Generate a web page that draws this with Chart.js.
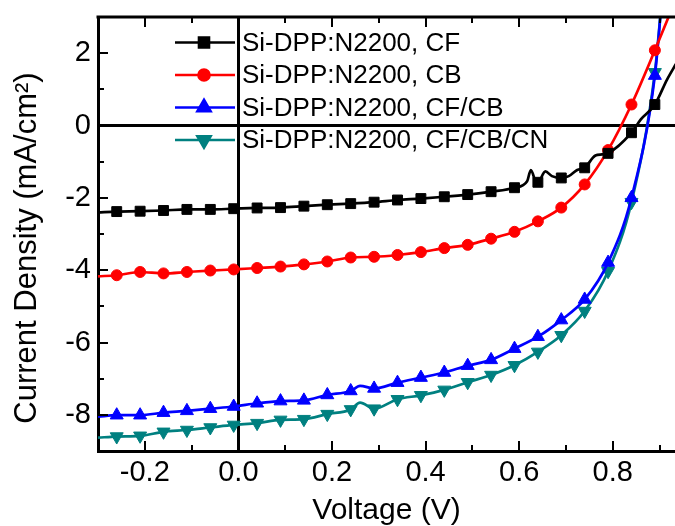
<!DOCTYPE html>
<html><head><meta charset="utf-8">
<script src="https://cdn.jsdelivr.net/npm/chart.js@4.4.1/dist/chart.umd.min.js"></script>
<style>html,body{margin:0;padding:0;background:#fff;overflow:hidden}#wrap{width:675px;height:526px}</style>
</head><body><div id="wrap"><canvas id="c" width="675" height="526"></canvas></div>
<script>
// ---- data ----
const seriesNames = ['Si-DPP:N2200, CF', 'Si-DPP:N2200, CB', 'Si-DPP:N2200, CF/CB', 'Si-DPP:N2200, CF/CB/CN'];
const markerV = [-0.26,-0.21,-0.16,-0.11,-0.06,-0.01,0.04,0.09,0.14,0.19,0.24,0.29,0.34,0.39,0.44,0.49,0.54,0.59,0.64,0.69,0.74,0.79,0.84,0.89];

const cfV = [-0.30,-0.26,-0.21,-0.16,-0.11,-0.06,-0.01,0.04,0.09,0.14,0.19,0.24,0.29,0.34,0.39,0.44,0.49,0.54,0.59,0.617,0.625,0.635,0.64,0.656,0.67,0.69,0.706,0.724,0.74,0.763,0.777,0.79,0.84,0.86,0.89,0.916,0.935];
const cfJ = [-2.40,-2.38,-2.37,-2.35,-2.32,-2.32,-2.30,-2.28,-2.27,-2.23,-2.19,-2.16,-2.12,-2.06,-2.02,-1.97,-1.91,-1.83,-1.72,-1.54,-1.23,-1.54,-1.57,-1.27,-1.40,-1.45,-1.40,-1.23,-1.17,-0.83,-0.80,-0.77,-0.20,0.17,0.58,1.27,1.70];

const cbV = [-0.30,-0.26,-0.21,-0.16,-0.11,-0.06,-0.01,0.04,0.09,0.14,0.19,0.24,0.29,0.34,0.39,0.44,0.49,0.54,0.59,0.64,0.69,0.74,0.79,0.84,0.89,0.935];
const cbJ = [-4.17,-4.14,-4.05,-4.09,-4.05,-4.01,-3.98,-3.94,-3.90,-3.84,-3.76,-3.65,-3.63,-3.58,-3.50,-3.39,-3.30,-3.13,-2.94,-2.65,-2.27,-1.63,-0.68,0.58,2.08,3.50];

const cfcbV = [-0.30,-0.26,-0.21,-0.16,-0.11,-0.06,-0.01,0.04,0.09,0.14,0.19,0.24,0.26,0.29,0.34,0.39,0.44,0.49,0.54,0.59,0.64,0.69,0.74,0.79,0.84,0.89,0.905];
const cfcbJ = [-8.05,-8.01,-8.01,-7.94,-7.89,-7.83,-7.77,-7.68,-7.62,-7.60,-7.45,-7.34,-7.20,-7.27,-7.11,-6.97,-6.83,-6.64,-6.48,-6.17,-5.84,-5.38,-4.81,-3.79,-2.00,1.38,3.50];

const cnV = [-0.30,-0.26,-0.21,-0.16,-0.11,-0.06,-0.01,0.04,0.09,0.14,0.19,0.24,0.26,0.29,0.34,0.39,0.44,0.49,0.54,0.59,0.64,0.69,0.74,0.79,0.84,0.89,0.905];
const cnJ = [-8.63,-8.60,-8.58,-8.47,-8.42,-8.35,-8.28,-8.23,-8.14,-8.12,-7.98,-7.85,-7.66,-7.83,-7.57,-7.46,-7.31,-7.10,-6.90,-6.63,-6.26,-5.80,-5.13,-4.03,-2.12,1.47,3.50];

const xMajor = [-0.2, 0.0, 0.2, 0.4, 0.6, 0.8];
const xMinor = [-0.1, 0.1, 0.3, 0.5, 0.7, 0.9];
const yMajor = [-8, -6, -4, -2, 0, 2];
const yMinor = [-7, -5, -3, -1, 1];
const xTitle = 'Voltage (V)';
const yTitle = 'Current Density (mA/cm²)';

// ---- styling ----
const colors = ['#000000', '#ff0000', '#0000ff', '#008080'];
const styles = [
  {pointStyle: 'rect', radius: 7, rotation: 0},
  {pointStyle: 'circle', radius: 5.5, rotation: 0},
  {pointStyle: 'triangle', radius: 7.5, rotation: 0},
  {pointStyle: 'triangle', radius: 7.5, rotation: 180}
];
const FONT = "'Liberation Sans', Arial, Helvetica, sans-serif";

function toPts(v, j) { return v.map((x, i) => ({x: x, y: j[i]})); }
const isMarker = x => markerV.some(m => Math.abs(m - x) < 1e-6);

const sets = [[cfV, cfJ], [cbV, cbJ], [cfcbV, cfcbJ], [cnV, cnJ]];
const datasets = sets.map((s, i) => ({
  label: seriesNames[i],
  data: toPts(s[0], s[1]),
  borderColor: colors[i],
  backgroundColor: colors[i],
  borderWidth: 2.7,
  pointStyle: styles[i].pointStyle,
  pointRotation: styles[i].rotation,
  pointRadius: ctx => (ctx.raw && isMarker(ctx.raw.x)) ? styles[i].radius : 0,
  pointHoverRadius: 0,
  pointBorderWidth: 1,
  cubicInterpolationMode: 'monotone',
  order: i
}));

function drawMarker(ctx, st, x, y) {
  if (Chart.helpers && Chart.helpers.drawPoint) {
    Chart.helpers.drawPoint(ctx, {pointStyle: st.pointStyle, radius: st.radius, rotation: st.rotation, borderWidth: 1}, x, y);
    return;
  }
  ctx.beginPath();
  ctx.arc(x, y, st.radius, 0, Math.PI * 2);
  ctx.fill();
}

const decor = {
  id: 'decor',
  afterDatasetsDraw(chart) {
    const {ctx, chartArea: a, scales} = chart;
    const xs = scales.x, ys = scales.y;
    ctx.save();
    ctx.strokeStyle = '#000';
    // top frame line
    ctx.lineWidth = 3;
    ctx.beginPath(); ctx.moveTo(a.left - 1.5, a.top); ctx.lineTo(a.right, a.top); ctx.stroke();
    // inward ticks
    ctx.lineWidth = 2;
    const seg = (x1, y1, x2, y2) => { ctx.beginPath(); ctx.moveTo(x1, y1); ctx.lineTo(x2, y2); ctx.stroke(); };
    xMajor.forEach(v => { const p = Math.round(xs.getPixelForValue(v)); seg(p, a.bottom, p, a.bottom - 10); seg(p, a.top, p, a.top + 10); });
    xMinor.forEach(v => { const p = Math.round(xs.getPixelForValue(v)); seg(p, a.bottom, p, a.bottom - 6); seg(p, a.top, p, a.top + 6); });
    yMajor.forEach(v => { const p = Math.round(ys.getPixelForValue(v)); seg(a.left, p, a.left + 10, p); });
    yMinor.forEach(v => { const p = Math.round(ys.getPixelForValue(v)); seg(a.left, p, a.left + 6, p); });

    // legend
    const lx0 = 175, lx1 = 235, mx = 204, tx = 242, rowY = [42.5, 75, 107.5, 140];
    ctx.font = '26px ' + FONT;
    ctx.textBaseline = 'middle';
    ctx.textAlign = 'left';
    chart.data.datasets.forEach((ds, i) => {
      const yy = rowY[i];
      ctx.strokeStyle = colors[i];
      ctx.fillStyle = colors[i];
      ctx.lineWidth = 2.7;
      seg(lx0, yy, lx1, yy);
      drawMarker(ctx, styles[i], mx, yy);
      ctx.fillStyle = '#000';
      ctx.fillText(ds.label, tx, yy + 1);
    });

    // y axis title
    ctx.save();
    ctx.translate(36, 248);
    ctx.rotate(-Math.PI / 2);
    ctx.font = '31px ' + FONT;
    ctx.fillStyle = '#000';
    ctx.textAlign = 'center';
    ctx.textBaseline = 'alphabetic';
    ctx.fillText(yTitle, 0, 0);
    ctx.restore();
    ctx.restore();
  }
};

new Chart(document.getElementById('c'), {
  type: 'line',
  data: {datasets},
  options: {
    responsive: false,
    animation: false,
    devicePixelRatio: 1,
    layout: {padding: {top: 17, right: 0, left: 0, bottom: 0}},
    plugins: {legend: {display: false}, tooltip: {enabled: false}},
    scales: {
      x: {
        type: 'linear', min: -0.3, max: 0.933,
        afterBuildTicks: s => { s.ticks = xMajor.map(v => ({value: v})); },
        afterFit: s => { s.height = 75; s.paddingLeft = 0; s.paddingRight = 0; },
        ticks: {color: '#000', padding: 5, font: {family: FONT, size: 29}, callback: v => Number(v).toFixed(1), maxRotation: 0, autoSkip: false},
        grid: {drawTicks: false, color: c => (c.tick && c.tick.value === 0) ? '#000' : 'rgba(0,0,0,0)', lineWidth: 3},
        border: {display: true, color: '#000', width: 3},
        title: {display: true, text: xTitle, color: '#000', font: {family: FONT, size: 30}, padding: {top: 0, bottom: -3}}
      },
      y: {
        type: 'linear', min: -9, max: 3,
        afterBuildTicks: s => { s.ticks = yMajor.map(v => ({value: v})); },
        afterFit: s => { s.width = 98; s.paddingTop = 0; s.paddingBottom = 0; },
        ticks: {color: '#000', padding: 7, font: {family: FONT, size: 29}, callback: v => String(v)},
        grid: {drawTicks: false, color: c => (c.tick && c.tick.value === 0) ? '#000' : 'rgba(0,0,0,0)', lineWidth: 3},
        border: {display: true, color: '#000', width: 3},
        title: {display: false}
      }
    }
  },
  plugins: [decor]
});
</script></body></html>
